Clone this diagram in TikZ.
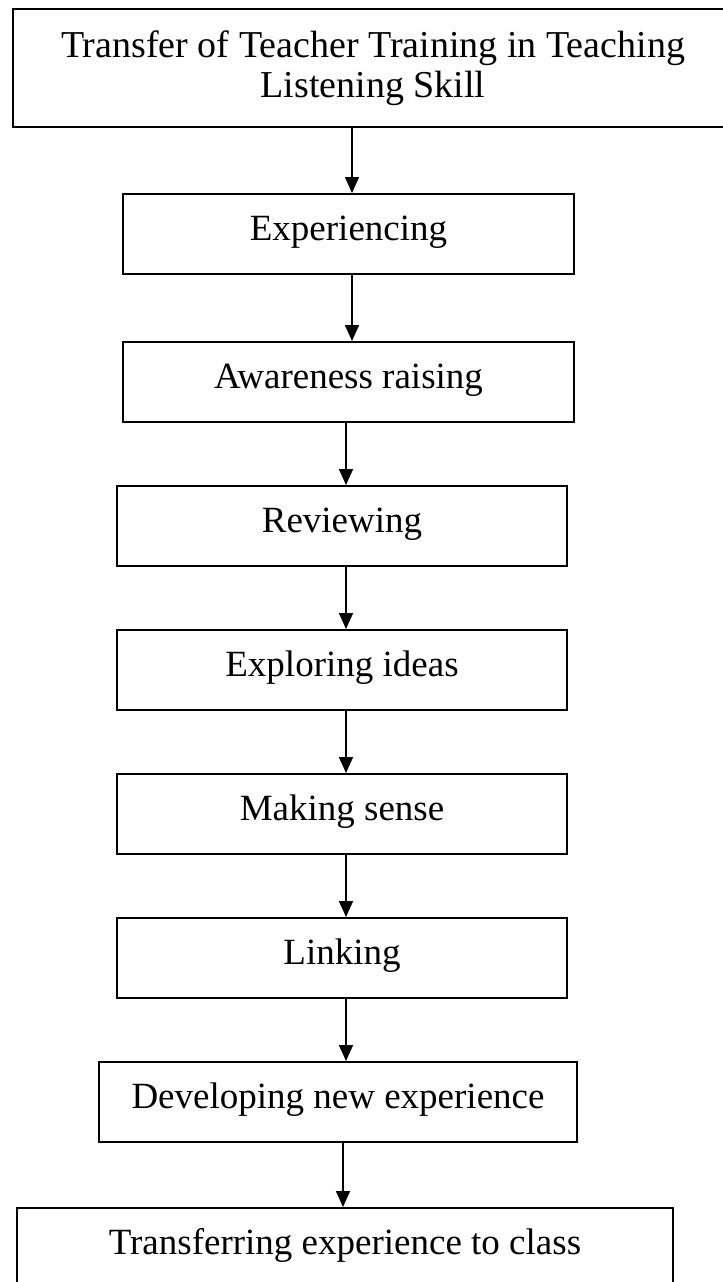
\documentclass[tikz,border=0pt]{standalone}
\usepackage{fontspec}
\setmainfont{Liberation Serif}
\usetikzlibrary{arrows.meta}
\begin{document}
\begin{tikzpicture}[x=0.5pt,y=-0.5pt,
		box/.style={draw,line width=1pt,inner sep=0pt,font=\fontsize{18.5}{20}\selectfont},
		stage/.style={box,minimum height=40pt,text height=13pt,text depth=7pt},
		flow/.style={-{Triangle[length=8pt,width=7pt]},line width=0.8pt}]
			\useasboundingbox (0,0) rectangle (723,1282);
			\clip (0,0) rectangle (723,1282);
			\node[box,minimum width=360pt,minimum height=59pt,align=center,font=\fontsize{19}{20}\selectfont] (transfer) at (373,68) {Transfer of Teacher Training in Teaching\\Listening Skill};
			\node[stage,minimum width=225.5pt] (exper) at (348.5,234) {Experiencing};
			\node[stage,minimum width=225.5pt] (aware) at (348.5,382) {Awareness raising};
			\node[stage,minimum width=225pt] (review) at (342,526) {Reviewing};
			\node[stage,minimum width=225pt] (explore) at (342,670) {Exploring ideas};
			\node[stage,minimum width=225pt] (sense) at (342,814) {Making sense};
			\node[stage,minimum width=225pt] (link) at (342,958) {Linking};
			\node[stage,minimum width=239pt] (develop) at (338,1102) {Developing new experience};
			\node[stage,minimum width=328pt] (class) at (345,1248) {Transferring experience to class};
			\foreach \a/\b/\x in {transfer/exper/352,exper/aware/352,aware/review/346,review/explore/346,explore/sense/346,sense/link/346,link/develop/346,develop/class/343}
				\draw[flow] (\a.south -| \x,0) -- (\b.north -| \x,0);
		\end{tikzpicture}
\end{document}
